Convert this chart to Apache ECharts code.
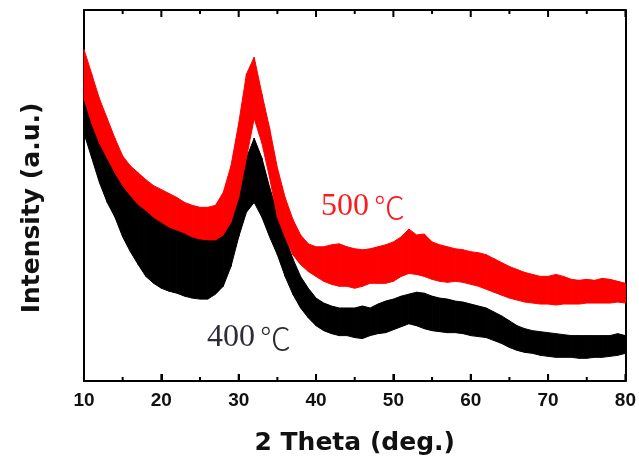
<!DOCTYPE html>
<html>
<head>
<meta charset="utf-8">
<script src="https://cdn.jsdelivr.net/npm/echarts@6/dist/echarts.min.js"></script>
<style>
  html, body { margin: 0; padding: 0; background: #fff; }
  #chart { width: 639px; height: 461px; }
</style>
</head>
<body>
<div id="chart"></div>
<script>
// 2 theta, one sample per degree
var theta = [];
for (var t = 10; t <= 80; t++) theta.push(t);

// 500 C sample: upper and lower edge of the noisy trace (a.u.)
var red_hi = [336,311,286,266,246,228,218,211,204,198,194,190,186,181,178,176,176,178,191,218,
  261,311,328,291,256,216,186,164,148,139,136,136,138,139,136,134,133,134,136,138,
  141,146,154,148,149,141,138,136,134,133,131,130,128,124,120,116,113,110,108,106,
  106,108,106,103,102,103,102,104,103,101,99];
var red_lo = [286,261,241,226,211,198,188,179,173,166,161,156,153,150,146,144,143,143,148,161,
  186,226,266,241,206,166,146,128,118,111,106,101,98,96,96,94,96,99,99,99,
  101,106,109,108,106,103,101,100,101,100,98,96,93,90,87,84,82,80,79,78,
  78,77,78,78,78,79,79,79,79,80,79];

// 400 C sample
var black_hi = [326,296,271,251,231,211,196,186,178,171,164,158,154,150,146,146,146,151,158,176,
  201,226,246,226,196,171,146,124,106,94,84,79,76,74,74,74,76,74,78,81,
  83,86,88,90,89,86,84,83,81,80,78,76,74,70,66,61,56,53,51,50,
  49,48,47,46,46,46,46,46,46,48,46];
var black_lo = [251,226,201,181,166,146,131,118,106,99,94,91,89,86,84,83,83,88,96,116,
  146,171,181,166,146,128,106,88,74,64,56,51,48,46,46,44,43,46,48,49,
  52,55,58,56,53,51,50,49,49,48,46,45,44,41,38,34,31,29,28,26,
  25,24,24,24,23,23,24,24,25,26,28];

var major_ticks = [10, 20, 30, 40, 50, 60, 70, 80];
var minor_ticks = [15, 25, 35, 45, 55, 65, 75];
var y_min = 0, y_max = 376;

// one filled quad between sample i and i+1
function band(name, lo, hi, color) {
	var data = [];
	for (var i = 0; i < theta.length - 1; i++) data.push([theta[i], lo[i], hi[i]]);
	return {
		name: name,
		type: 'custom',
		silent: true,
		data: data,
		encode: { x: 0, y: [1, 2] },
		renderItem: function (params, api) {
			var i = params.dataIndex;
			var pts = [
				api.coord([theta[i], lo[i]]),
				api.coord([theta[i + 1], lo[i + 1]]),
				api.coord([theta[i + 1], hi[i + 1]]),
				api.coord([theta[i], hi[i]])
			];
			return {
				type: 'polygon',
				shape: { points: pts },
				style: { fill: color, stroke: color, lineWidth: 1 }
			};
		}
	};
}

// inward tick marks on bottom and top edges, as broken line segments
// (one y unit is about one pixel here)
function ticks(values, len) {
	var d = [];
	values.forEach(function (v) {
		d.push([v, y_min], [v, y_min + len], [v, '-']);
		d.push([v, y_max], [v, y_max - len], [v, '-']);
	});
	return {
		type: 'line',
		silent: true,
		symbol: 'none',
		connectNulls: false,
		clip: false,
		z: 5,
		lineStyle: { color: '#000', width: 2 },
		data: d
	};
}

var chart = echarts.init(document.getElementById('chart'));

chart.setOption({
	animation: false,
	backgroundColor: '#fff',
	grid: { left: 84, right: 12, top: 10, bottom: 75 },
	xAxis: [{
		type: 'value',
		min: 10, max: 80, interval: 10,
		position: 'bottom',
		name: '2 Theta (deg.)',
		nameLocation: 'middle',
		nameGap: 50,
		nameTextStyle: { color: '#111', fontFamily: 'DejaVu Sans', fontWeight: 'bold', fontSize: 25 },
		axisLine: { onZero: false, lineStyle: { color: '#000', width: 2 } },
		axisTick: { show: true, inside: true, length: 7, lineStyle: { color: '#000', width: 2 } },
		axisLabel: { margin: 10, color: '#111', fontFamily: 'Liberation Sans', fontWeight: 'bold', fontSize: 19 },
		splitLine: { show: false }
	}, {
		type: 'value',
		min: 10, max: 80, interval: 10,
		position: 'top',
		axisLine: { onZero: false, lineStyle: { color: '#000', width: 2 } },
		axisTick: { show: false },
		axisLabel: { show: false },
		splitLine: { show: false }
	}],
	yAxis: [{
		type: 'value',
		min: y_min, max: y_max,
		position: 'left',
		axisLine: { show: true, onZero: false, lineStyle: { color: '#000', width: 2 } },
		axisTick: { show: false },
		axisLabel: { show: false },
		splitLine: { show: false }
	}, {
		type: 'value',
		min: y_min, max: y_max,
		position: 'right',
		axisLine: { show: true, onZero: false, lineStyle: { color: '#000', width: 2 } },
		axisTick: { show: false },
		axisLabel: { show: false },
		splitLine: { show: false }
	}],
	series: [
		band('400℃', black_lo, black_hi, '#000000'),
		band('500℃', red_lo, red_hi, '#ff0000'),
		ticks(major_ticks, 7),
		ticks(minor_ticks, 4)
	],
	graphic: [{
		type: 'text',
		x: 32, y: 208,
		rotation: Math.PI / 2,
		style: {
			text: 'Intensity (a.u.)', fill: '#111',
			font: 'bold 25px "DejaVu Sans"',
			align: 'center', verticalAlign: 'middle'
		}
	}, {
		type: 'text',
		left: 321, top: 191,
		style: {
			text: '{n|500}{c|℃}', fill: '#ff1a1a',
			rich: {
				n: { fontFamily: 'Liberation Serif', fontSize: 32, fill: '#ff1a1a' },
				c: { fontFamily: 'Noto Sans CJK SC', fontWeight: 300, fontSize: 31, fill: '#ff1a1a', padding: [0, 0, 0, 5] }
			}
		}
	}, {
		type: 'text',
		left: 207, top: 322,
		style: {
			text: '{n|400}{c|℃}', fill: '#2b2b2b',
			rich: {
				n: { fontFamily: 'Liberation Serif', fontSize: 32, fill: '#2b2b3a' },
				c: { fontFamily: 'Noto Sans CJK SC', fontWeight: 300, fontSize: 31, fill: '#2b2b2b', padding: [0, 0, 0, 5] }
			}
		}
	}]
});
</script>
</body>
</html>
